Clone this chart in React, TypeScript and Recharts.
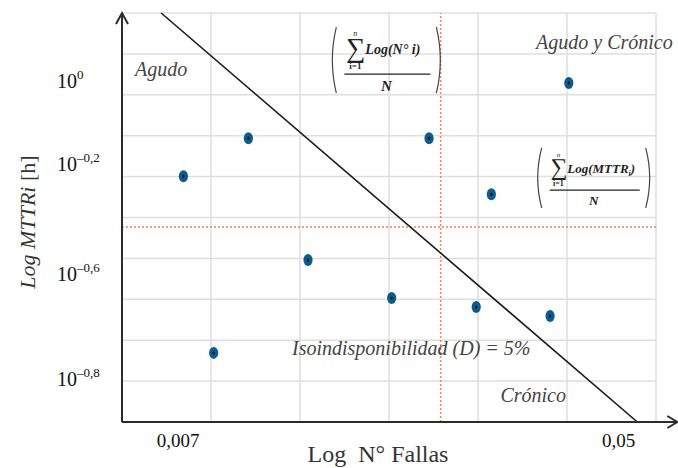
import React from "react";
import {
  ScatterChart,
  Scatter,
  XAxis,
  YAxis,
  ReferenceLine,
  ReferenceDot,
} from "recharts";

const SERIF = "'Liberation Serif', 'Times New Roman', serif";
const INK = "#2b2b2b";
const GRID = "#dedede";
const MEAN = "#f2815f";

// equipment points, read in grid units of the log-log sheet
const FALLAS = [0.69, 1.42, 3.45, 5.02, 4.15, 2.09, 1.03, 3.03, 3.98, 4.81];
const MTTR = [6.01, 6.94, 6.94, 8.29, 5.57, 3.96, 1.69, 3.03, 2.81, 2.59];

const X_TICKS = [0.63, 5.58];
const X_LABELS = ["0,007", "0,05"];
const Y_TICKS = [1.08, 3.64, 6.33, 8.36];
const Y_EXPONENTS = ["–0,8", "–0,6", "–0,2", "0"];

const GRID_X = [1, 2, 3, 4, 5, 6];
const GRID_Y = [1, 2, 3, 4, 5, 6, 7, 8, 9, 10];

const MEAN_FALLAS = 3.58;
const MEAN_MTTR = 4.77;
const ISO_LINE = [
  { x: 0.44, y: 10 },
  { x: 5.79, y: 0 },
];

const ZONES = [
  { x: 0.44, y: 8.63, text: "Agudo" },
  { x: 5.42, y: 9.29, text: "Agudo y Crónico" },
  { x: 3.25, y: 1.81, text: "Isoindisponibilidad (D) = 5%" },
  { x: 4.62, y: 0.66, text: "Crónico" },
];

const data = FALLAS.map((x, i) => ({ x, y: MTTR[i] }));

const Dot = (props: any) => {
  const { cx, cy } = props;
  return (
    <g>
      <ellipse cx={cx} cy={cy} rx={4.6} ry={6} fill="#0a5c8e" />
      <ellipse cx={cx} cy={cy} rx={1} ry={1.6} fill="#000" />
    </g>
  );
};

const YTick = (props: any) => {
  const i = Y_TICKS.indexOf(props.payload.value);
  return (
    <text x={57} y={props.y + 8} fill="#111" fontSize={20}>
      10
      <tspan dy={-9} fontSize={13}>
        {Y_EXPONENTS[i]}
      </tspan>
    </text>
  );
};

const XTick = (props: any) => {
  const i = X_TICKS.indexOf(props.payload.value);
  return (
    <text
      x={props.x}
      y={props.y + 17}
      textAnchor="middle"
      fontSize={19}
      fill="#111"
    >
      {X_LABELS[i]}
    </text>
  );
};

const Paren = ({ x, top, bottom, dir }: any) => {
  const mid = (top + bottom) / 2;
  return (
    <path
      d={`M${x} ${top} Q${x - 8 * dir} ${mid} ${x} ${bottom}`}
      fill="none"
      stroke="#444"
      strokeWidth={1.2}
    />
  );
};

const Formula = ({ cx, cy, body, sub, half, rise, s, fs }: any) => (
  <g fill="#222">
    <Paren x={cx - half} top={cy - rise} bottom={cy + rise} dir={1} />
    <Paren x={cx + half} top={cy - rise} bottom={cy + rise} dir={-1} />
    <text x={cx - half + 10 * s} y={cy - 3 * s} fontSize={27 * s}>
      ∑
    </text>
    <text
      x={cx - half + 19 * s}
      y={cy - 24 * s}
      fontSize={8 * s}
      fontStyle="italic"
      textAnchor="middle"
    >
      n
    </text>
    <text
      x={cx - half + 19 * s}
      y={cy + 9 * s}
      fontSize={9 * s}
      fontWeight="bold"
      textAnchor="middle"
    >
      i=1
    </text>
    <text
      x={cx - half + 29 * s}
      y={cy - 6 * s}
      fontSize={fs}
      fontStyle="italic"
      fontWeight="bold"
    >
      {body}
      {sub ? (
        <tspan dy={3} fontSize={fs * 0.6}>
          {sub}
        </tspan>
      ) : null}
      {sub ? <tspan dy={-3}>)</tspan> : null}
    </text>
    <line
      x1={cx - half + 8}
      x2={cx + half - 6}
      y1={cy + 14 * s}
      y2={cy + 14 * s}
      stroke="#222"
      strokeWidth={1.2}
    />
    <text
      x={cx}
      y={cy + 31 * s}
      textAnchor="middle"
      fontSize={15 * s}
      fontStyle="italic"
      fontWeight="bold"
    >
      N
    </text>
  </g>
);

const Chevron = ({ cx, cy, dir }: any) =>
  dir === "up" ? (
    <path
      d={`M${cx - 6} ${cy + 11} L${cx} ${cy} L${cx + 6} ${cy + 11}`}
      fill="none"
      stroke={INK}
      strokeWidth={2}
    />
  ) : (
    <path
      d={`M${cx - 10} ${cy - 6} L${cx} ${cy} L${cx - 10} ${cy + 6}`}
      fill="none"
      stroke={INK}
      strokeWidth={2}
    />
  );

export default function App() {
  return (
    <div
      style={{
        position: "absolute",
        left: 0,
        top: 0,
        background: "#fff",
      }}
    >
      <style>{`svg text, svg tspan { font-family: ${SERIF} !important; }`}</style>
      <ScatterChart
        width={678}
        height={468}
        margin={{ top: 13, right: 22, left: 0, bottom: 0 }}
      >
        <XAxis
          type="number"
          dataKey="x"
          domain={[0, 6]}
          ticks={X_TICKS}
          tick={<XTick />}
          axisLine={false}
          tickLine={false}
          height={46}
          label={{
            content: () => (
              <text
                x={378}
                y={462}
                textAnchor="middle"
                fontSize={24}
                fill="#333"
              >
                Log {"\u00a0"}N° Fallas
              </text>
            ),
          }}
        />
        <YAxis
          type="number"
          dataKey="y"
          domain={[0, 10]}
          ticks={Y_TICKS}
          tick={<YTick />}
          axisLine={false}
          tickLine={false}
          width={122}
          label={{
            content: () => (
              <text
                transform="translate(35 222) rotate(-90)"
                textAnchor="middle"
                fontSize={22}
                fill="#333"
              >
                <tspan fontStyle="italic">Log MTTRi </tspan>
                <tspan>[h]</tspan>
              </text>
            ),
          }}
        />
        {GRID_X.map((v) => (
          <ReferenceLine key={`gx${v}`} x={v} stroke={GRID} strokeWidth={1.5} />
        ))}
        {GRID_Y.map((v) => (
          <ReferenceLine key={`gy${v}`} y={v} stroke={GRID} strokeWidth={1.5} />
        ))}
        <ReferenceLine
          y={MEAN_MTTR}
          stroke={MEAN}
          strokeWidth={1.5}
          strokeDasharray="2 2"
        />
        <ReferenceLine
          x={MEAN_FALLAS}
          stroke={MEAN}
          strokeWidth={1.5}
          strokeDasharray="2 2"
        />
        <ReferenceLine
          segment={ISO_LINE}
          stroke="#1a1a1a"
          strokeWidth={1.6}
          ifOverflow="visible"
        />
        <ReferenceLine
          segment={[
            { x: 0, y: 0 },
            { x: 0, y: 10 },
          ]}
          stroke={INK}
          strokeWidth={2}
          ifOverflow="visible"
        />
        <ReferenceLine
          segment={[
            { x: 0, y: 0 },
            { x: 6.24, y: 0 },
          ]}
          stroke={INK}
          strokeWidth={2}
          ifOverflow="visible"
        />
        <ReferenceDot
          x={0}
          y={10}
          r={0}
          ifOverflow="visible"
          shape={(p: any) => <Chevron cx={p.cx} cy={p.cy} dir="up" />}
        />
        <ReferenceDot
          x={6.24}
          y={0}
          r={0}
          ifOverflow="visible"
          shape={(p: any) => <Chevron cx={p.cx} cy={p.cy} dir="right" />}
        />
        {ZONES.map((z) => (
          <ReferenceDot
            key={z.text}
            x={z.x}
            y={z.y}
            r={0}
            ifOverflow="visible"
            shape={(p: any) => (
              <text
                x={p.cx}
                y={p.cy}
                textAnchor="middle"
                dominantBaseline="central"
                fontStyle="italic"
                fontSize={20}
                fill="#444"
              >
                {z.text}
              </text>
            )}
          />
        ))}
        <ReferenceDot
          x={2.97}
          y={8.85}
          r={0}
          ifOverflow="visible"
          shape={(p: any) => (
            <Formula
              cx={p.cx}
              cy={p.cy}
              body="Log(N° i)"
              half={50}
              rise={33}
              s={1}
              fs={14}
            />
          )}
        />
        <ReferenceDot
          x={5.3}
          y={5.97}
          r={0}
          ifOverflow="visible"
          shape={(p: any) => (
            <Formula
              cx={p.cx}
              cy={p.cy}
              body="Log(MTTR"
              sub="i"
              half={52}
              rise={30}
              s={0.88}
              fs={13}
            />
          )}
        />
        <Scatter data={data} shape={<Dot />} isAnimationActive={false} />
      </ScatterChart>
    </div>
  );
}
